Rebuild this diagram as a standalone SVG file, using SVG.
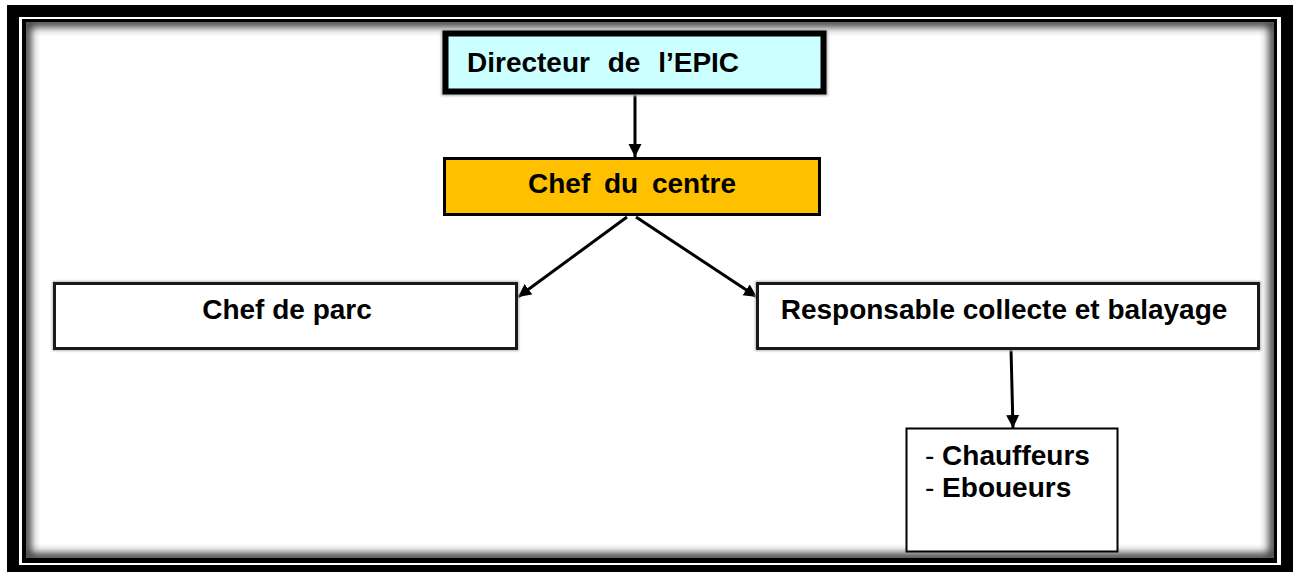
<svg xmlns="http://www.w3.org/2000/svg" width="1296" height="572" viewBox="0 0 1296 572">
  <style>
    .lbl { font-family: "Liberation Sans", Arial, sans-serif; font-weight: bold; font-size: 28px; fill: #000; }
    .dash { font-weight: normal; }
    .box { fill: #fff; stroke: #1a1a1a; stroke-width: 3; }
    .conn { fill: none; stroke: #000; stroke-width: 3; }
  </style>
  <defs>
    <marker id="arr" markerUnits="userSpaceOnUse" markerWidth="14" markerHeight="14" viewBox="0 0 14 14" refX="13" refY="7" orient="auto">
      <path d="M0,0.5 L13,7 L0,13.5 Z" fill="#000"/>
    </marker>
    <filter id="blur" x="-5%" y="-5%" width="110%" height="110%">
      <feGaussianBlur stdDeviation="4"/>
    </filter>
    <filter id="halo" x="-5%" y="-10%" width="110%" height="120%">
      <feGaussianBlur stdDeviation="1"/>
    </filter>
    <clipPath id="inner">
      <rect x="26" y="22" width="1248" height="536"/>
    </clipPath>
  </defs>

  <!-- frame -->
  <g id="frame">
    <rect x="0" y="0" width="1296" height="572" fill="#fff"/>
    <rect x="7" y="5" width="1286" height="567" fill="#000"/>
    <rect x="19" y="17" width="1262" height="548" fill="#fff"/>
    <rect x="22" y="19" width="1255" height="544" fill="#000"/>
    <rect x="26" y="22" width="1248" height="536" fill="#fff"/>
    <g clip-path="url(#inner)">
      <rect x="26" y="22" width="1248" height="536" fill="none" stroke="#333" stroke-width="10" filter="url(#blur)"/>
    </g>
  </g>

  <!-- connectors -->
  <g id="connectors">
    <line class="conn" x1="635" y1="95" x2="635" y2="157" marker-end="url(#arr)"/>
    <line class="conn" x1="627" y1="217" x2="518" y2="297" marker-end="url(#arr)"/>
    <line class="conn" x1="636" y1="217" x2="757" y2="297" marker-end="url(#arr)"/>
    <line class="conn" x1="1011" y1="349" x2="1013" y2="428" marker-end="url(#arr)"/>
  </g>

  <!-- nodes -->
  <g id="directeur">
    <rect x="445.5" y="33.5" width="378" height="58" fill="none" stroke="#bbb" stroke-width="9" filter="url(#halo)"/>
    <rect x="445.5" y="33.5" width="378" height="58" fill="#CCFFFF" stroke="#000" stroke-width="6"/>
    <text class="lbl" x="467" y="72" word-spacing="10">Directeur de l’EPIC</text>
  </g>

  <g id="chef-centre">
    <rect x="444.5" y="158.5" width="375" height="56" fill="#FFC000" stroke="#000" stroke-width="3"/>
    <text class="lbl" x="632" y="193" text-anchor="middle" word-spacing="6">Chef du centre</text>
  </g>

  <g id="chef-parc">
    <rect x="54.5" y="283.5" width="462" height="65" fill="none" stroke="#bbb" stroke-width="5" filter="url(#halo)"/>
    <rect class="box" x="54.5" y="283.5" width="462" height="65"/>
    <text class="lbl" x="287" y="319" text-anchor="middle">Chef de parc</text>
  </g>

  <g id="responsable">
    <rect x="757.5" y="283.5" width="501" height="65" fill="none" stroke="#bbb" stroke-width="5" filter="url(#halo)"/>
    <rect class="box" x="757.5" y="283.5" width="501" height="65"/>
    <text class="lbl" x="1004" y="319" text-anchor="middle">Responsable collecte et balayage</text>
  </g>

  <g id="personnel">
    <rect x="906.5" y="428.5" width="211" height="123" fill="#fff" stroke="#000" stroke-width="2"/>
    <text class="lbl" x="925" y="465"><tspan class="dash">- </tspan>Chauffeurs</text>
    <text class="lbl" x="925" y="497"><tspan class="dash">- </tspan>Eboueurs</text>
  </g>
</svg>
